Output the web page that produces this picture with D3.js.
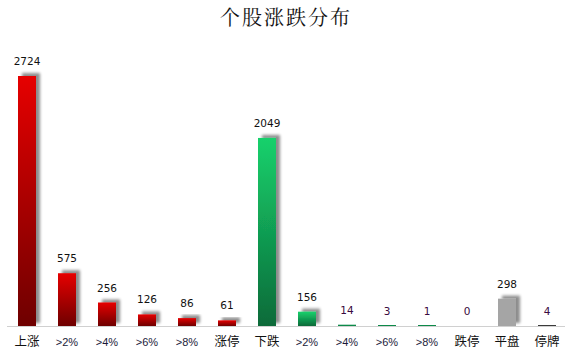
<!DOCTYPE html>
<html lang="zh">
<head>
<meta charset="UTF-8" />
<title>个股涨跌分布</title>
<script src="https://cdn.jsdelivr.net/npm/d3@7/dist/d3.min.js"></script>
<style>
  body { margin: 0; background: #fff; }
  svg { display: block; }
</style>
</head>
<body>
<script>
// chart data
var categories = ["上涨", ">2%", ">4%", ">6%", ">8%", "涨停", "下跌", ">2%", ">4%", ">6%", ">8%", "跌停", "平盘", "停牌"];
var values = [2724, 575, 256, 126, 86, 61, 2049, 156, 14, 3, 1, 0, 298, 4];
var groups = ["up", "up", "up", "up", "up", "up", "down", "down", "down", "down", "down", "down", "flat", "halt"];
var title = "个股涨跌分布";

var width = 567, height = 355;
var margin = { top: 76, right: 0, bottom: 29, left: 7 };

var svg = d3.select("body").append("svg")
  .attr("width", width)
  .attr("height", height);

var defs = svg.append("defs");

// soft gray shadow, up and to the right
var f = defs.append("filter").attr("id", "shadow")
  .attr("x", "-50%").attr("y", "-50%").attr("width", "200%").attr("height", "200%");
f.append("feGaussianBlur").attr("in", "SourceAlpha").attr("stdDeviation", 1.6).attr("result", "b");
f.append("feOffset").attr("in", "b").attr("dx", 4).attr("dy", -3).attr("result", "o");
f.append("feComponentTransfer").attr("in", "o").attr("result", "s")
  .append("feFuncA").attr("type", "linear").attr("slope", 0.45);
var fm = f.append("feMerge");
fm.append("feMergeNode").attr("in", "s");
fm.append("feMergeNode").attr("in", "SourceGraphic");

function grad(id, top, bottom) {
  var g = defs.append("linearGradient").attr("id", id)
    .attr("x1", 0).attr("y1", 0).attr("x2", 0).attr("y2", 1);
  g.append("stop").attr("offset", "0%").attr("stop-color", top);
  g.append("stop").attr("offset", "100%").attr("stop-color", bottom);
}
grad("g-up", "#e60000", "#6e0006");
grad("g-down", "#17d16c", "#0b6a39");

var fills = {
  up: "url(#g-up)",
  down: "url(#g-down)",
  flat: "#a5a5a5",
  halt: "#3a3a3a"
};
var solid = { up: "#c00000", down: "#0f8a48", flat: "#a5a5a5", halt: "#3a3a3a" };

var idx = d3.range(categories.length);

var x = d3.scaleBand()
  .domain(idx)
  .range([margin.left, width - margin.right])
  .paddingInner(0.55)
  .paddingOuter(0.275);

var baseY = height - margin.bottom;
var y = d3.scaleLinear()
  .domain([0, d3.max(values)])
  .range([baseY, margin.top]);

// title
svg.append("text")
  .attr("x", 286)
  .attr("y", 25)
  .attr("text-anchor", "middle")
  .style("font-family", "'Noto Serif CJK SC', 'Noto Sans CJK SC', serif")
  .style("font-size", "20px")
  .style("letter-spacing", "2px")
  .style("fill", "#111")
  .text(title);

// axis line
svg.append("line")
  .attr("x1", margin.left)
  .attr("x2", width - 2)
  .attr("y1", baseY + 0.5)
  .attr("y2", baseY + 0.5)
  .style("stroke", "#d0d0d0")
  .style("stroke-width", 1);

// bars
svg.selectAll("rect.bar")
  .data(idx)
  .enter()
  .append("rect")
  .attr("class", "bar")
  .attr("x", function(i) { return x(i); })
  .attr("width", x.bandwidth())
  .attr("y", function(i) { return Math.min(y(values[i]), baseY - 1); })
  .attr("height", function(i) { return Math.max(baseY - y(values[i]), 1); })
  .style("fill", function(i) { return values[i] > 20 ? fills[groups[i]] : solid[groups[i]]; })
  .style("opacity", function(i) { return values[i] === 0 ? 0 : 1; })
  .attr("filter", "url(#shadow)");

// value labels
svg.selectAll("text.val")
  .data(idx)
  .enter()
  .append("text")
  .attr("class", "val")
  .attr("x", function(i) { return x(i) + x.bandwidth() / 2; })
  .attr("y", function(i) { return y(values[i]) - 11; })
  .attr("text-anchor", "middle")
  .style("font-family", "'DejaVu Sans', sans-serif")
  .style("font-size", "10.5px")
  .style("fill", function(i) { return (groups[i] === "down" && i > 7) || groups[i] === "halt" ? "#3a0a40" : "#111"; })
  .text(function(i) { return values[i]; });

// category labels
svg.selectAll("text.cat")
  .data(idx)
  .enter()
  .append("text")
  .attr("class", "cat")
  .attr("x", function(i) { return x(i) + x.bandwidth() / 2; })
  .attr("y", 346)
  .attr("text-anchor", "middle")
  .style("font-family", function(i) { return /%/.test(categories[i]) ? "'Liberation Sans', sans-serif" : "'Noto Sans CJK SC', sans-serif"; })
  .style("font-size", function(i) { return /%/.test(categories[i]) ? "11px" : "12.5px"; })
  .style("fill", function(i) { return /%/.test(categories[i]) ? "#1a1a3a" : "#111"; })
  .text(function(i) { return categories[i]; });
</script>
</body>
</html>
